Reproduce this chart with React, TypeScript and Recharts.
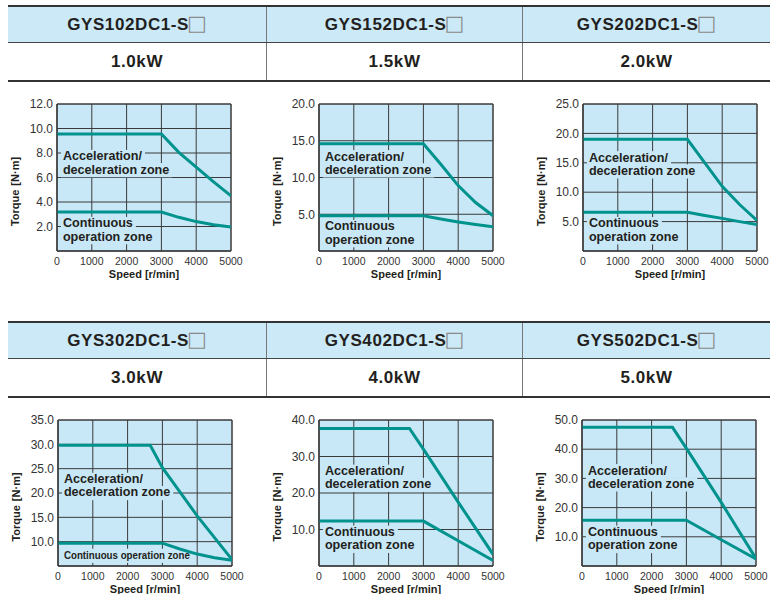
import React from 'react';
import {
  LineChart, Line, XAxis, YAxis, CartesianGrid, ReferenceDot, ReferenceArea,
} from 'recharts';

const speedTicks = [0, 1000, 2000, 3000, 4000, 5000];

const models = ['GYS102DC1-S', 'GYS152DC1-S', 'GYS202DC1-S', 'GYS302DC1-S', 'GYS402DC1-S', 'GYS502DC1-S'];
const ratings = ['1.0kW', '1.5kW', '2.0kW', '3.0kW', '4.0kW', '5.0kW'];

// [speed r/min, torque N·m]
const accel102 = [[0, 9.55], [3000, 9.55], [3500, 8.05], [4000, 6.85], [4500, 5.65], [5000, 4.5]];
const cont102 = [[0, 3.18], [3000, 3.18], [3500, 2.75], [4000, 2.4], [4500, 2.15], [5000, 1.95]];
const accel152 = [[0, 14.6], [3000, 14.6], [3500, 11.8], [4000, 8.9], [4500, 6.6], [5000, 4.8]];
const cont152 = [[0, 4.8], [3000, 4.8], [3500, 4.35], [4000, 3.95], [4500, 3.6], [5000, 3.3]];
const accel202 = [[0, 19.0], [3000, 19.0], [3500, 15.0], [4000, 11.0], [4500, 7.9], [5000, 5.2]];
const cont202 = [[0, 6.6], [3000, 6.6], [3500, 6.05], [4000, 5.55], [4500, 5.0], [5000, 4.5]];
const accel302 = [[0, 29.8], [2650, 29.8], [3000, 25.2], [4000, 15.3], [5000, 6.3]];
const cont302 = [[0, 9.7], [3000, 9.7], [3500, 8.5], [4000, 7.45], [4500, 6.7], [5000, 6.2]];
const accel402 = [[0, 37.7], [2600, 37.7], [3000, 32.0], [4000, 17.5], [5000, 3.2]];
const cont402 = [[0, 12.3], [3000, 12.3], [4000, 6.9], [5000, 1.5]];
const accel502 = [[0, 47.5], [2600, 47.5], [3000, 40.3], [4000, 21.8], [5000, 2.5]];
const cont502 = [[0, 15.7], [3000, 15.7], [4000, 9.0], [5000, 2.4]];

const ticks102 = [2, 4, 6, 8, 10, 12];
const ticks152 = [5, 10, 15, 20];
const ticks202 = [5, 10, 15, 20, 25];
const ticks302 = [10, 15, 20, 25, 30, 35];
const ticks402 = [10, 20, 30, 40];
const ticks502 = [10, 20, 30, 40, 50];

const TEAL = '#00928d';
const PLOT_BG = '#c9e8f7';
const HEAD_BG = '#cce9f7';
const INK = '#231f20';
const GRID = '#3a3a3a';
const FONT = '"Liberation Sans", Arial, Helvetica, sans-serif';

const ACC_TEXT = ['Acceleration/', 'deceleration zone'];
const CONT_TEXT = ['Continuous', 'operation zone'];

const toPts = (a: number[][]) => a.map(([speed, torque]) => ({ speed, torque }));

// layout per panel: plot-area origin, y scale, where the zone captions sit
const charts = [
  { accel: accel102, cont: cont102, ticks: ticks102, domain: [0, 12], left: 57, top: 104, plotH: 147, accAt: 7.4, contAt: 1.93 },
  { accel: accel152, cont: cont152, ticks: ticks152, domain: [0, 20], left: 319, top: 104, plotH: 147, accAt: 12.3, contAt: 2.8 },
  { accel: accel202, cont: cont202, ticks: ticks202, domain: [0, 25], left: 583, top: 104, plotH: 147, accAt: 15.2, contAt: 4.0 },
  { accel: accel302, cont: cont302, ticks: ticks302, domain: [5, 35], left: 58, top: 420, plotH: 146, accAt: 22.0, contAt: 6.4, contOneLine: true },
  { accel: accel402, cont: cont402, ticks: ticks402, domain: [0, 40], left: 319, top: 420, plotH: 146, accAt: 24.9, contAt: 8.2 },
  { accel: accel502, cont: cont502, ticks: ticks502, domain: [0, 50], left: 582, top: 420, plotH: 146, accAt: 31.3, contAt: 10.2 },
];

let ctx: CanvasRenderingContext2D | null = null;
function textWidth(t: string, font: string) {
  if (!ctx) ctx = document.createElement('canvas').getContext('2d');
  if (!ctx) return t.length * 7;
  ctx.font = font;
  return ctx.measureText(t).width;
}

// caption drawn on a patch of plot colour so the grid does not run through it
function ZoneLabel({ x, y, lines, squeeze }: { x?: number; y?: number; lines: string[]; squeeze?: number }) {
  if (x == null || y == null) return null;
  const size = squeeze ? 11.5 : 12.6;
  const lh = 13.2;
  const font = `bold ${size}px "Liberation Sans"`;
  return (
    <g>
      {lines.map((t, i) => (
        <rect key={'r' + i} x={x - 2} y={y + i * lh - 10.5} width={(squeeze ?? textWidth(t, font)) + 5} height={lh + 1} fill={PLOT_BG} />
      ))}
      {lines.map((t, i) => (
        <text key={'t' + i} x={x} y={y + i * lh} fontFamily={FONT} fontWeight="bold" fontSize={size} fill={INK}
          textLength={squeeze} lengthAdjust={squeeze ? 'spacingAndGlyphs' : undefined}>
          {t}
        </text>
      ))}
    </g>
  );
}

function Panel({ c }: { c: typeof charts[number] }) {
  const plotW = 174;
  const w = 50 + plotW + 14;
  const h = 10 + c.plotH + 40;
  return (
    <div style={{ position: 'absolute', left: c.left - 50, top: c.top - 10 }}>
      <LineChart width={w} height={h} margin={{ top: 10, right: 14, bottom: 0, left: 0 }}>
        <CartesianGrid stroke={GRID} strokeWidth={1} fill={PLOT_BG} fillOpacity={1} />
        <XAxis
          type="number" dataKey="speed" domain={[0, 5000]} ticks={speedTicks} interval={0}
          height={40} tickSize={0} tickMargin={7} allowDataOverflow
          axisLine={{ stroke: GRID }}
          tick={{ fontSize: 10.5, fill: '#333', fontFamily: FONT }}
          label={({ viewBox }: any) => (
            <text x={viewBox.x + viewBox.width / 2} y={viewBox.y + 27} textAnchor="middle"
              fontFamily={FONT} fontWeight="bold" fontSize={11} fill={INK}>
              Speed [r/min]
            </text>
          )}
        />
        <YAxis
          type="number" domain={c.domain} ticks={c.ticks} interval={0} width={50}
          tickSize={0} tickMargin={4} allowDataOverflow
          axisLine={{ stroke: GRID }}
          tick={{ fontSize: 12, fill: '#333', fontFamily: FONT }}
          tickFormatter={(v: number) => v.toFixed(1)}
          label={({ viewBox }: any) => {
            const cx = viewBox.x + viewBox.width - 42;
            const cy = viewBox.y + viewBox.height / 2 + 14;
            return (
              <text x={cx} y={cy} dy="0.35em" textAnchor="middle" transform={`rotate(-90 ${cx} ${cy})`}
                fontFamily={FONT} fontWeight="bold" fontSize={11} fill={INK}>
                <tspan>Torque</tspan><tspan dx={4}>[N·m]</tspan>
              </text>
            );
          }}
        />
        <ReferenceDot x={170} y={c.accAt} r={0} zIndex={50}
          shape={(p: any) => <ZoneLabel x={p.cx} y={p.cy} lines={ACC_TEXT} />} />
        <ReferenceDot x={170} y={c.contAt} r={0} zIndex={50}
          shape={(p: any) => c.contOneLine
            ? <ZoneLabel x={p.cx} y={p.cy} lines={['Continuous operation zone']} squeeze={126} />
            : <ZoneLabel x={p.cx} y={p.cy} lines={CONT_TEXT} />} />
        <Line data={toPts(c.accel)} dataKey="torque" type="linear" stroke={TEAL} strokeWidth={3}
          dot={false} activeDot={false} isAnimationActive={false} />
        <Line data={toPts(c.cont)} dataKey="torque" type="linear" stroke={TEAL} strokeWidth={3}
          dot={false} activeDot={false} isAnimationActive={false} />
        <ReferenceArea x1={0} x2={5000} y1={c.domain[0]} y2={c.domain[1]} fill="none" fillOpacity={0}
          stroke={GRID} strokeWidth={1} ifOverflow="visible" />
      </LineChart>
    </div>
  );
}

function SpecTable({ top, names, kws }: { top: number; names: string[]; kws: string[] }) {
  const widths = [258, 256, 248];
  const cell = (i: number) => ({
    width: widths[i], boxSizing: 'border-box' as const,
    borderLeft: i ? '1px solid #777' : 'none',
    display: 'flex', alignItems: 'center', justifyContent: 'center',
  });
  return (
    <div style={{
      position: 'absolute', left: 8, top, width: 762,
      borderTop: '2px solid #333', borderBottom: '2px solid #333',
      color: INK, fontWeight: 'bold', fontFamily: FONT,
    }}>
      <div style={{ display: 'flex', height: 35, background: HEAD_BG, borderBottom: '1px solid #444' }}>
        {names.map((n, i) => (
          <div key={n} style={{ ...cell(i), fontSize: 17, letterSpacing: 0.6 }}>
            {n}
            <span style={{ fontFamily: '"DejaVu Sans"', fontWeight: 'normal', color: '#8a8a8a', fontSize: 21, letterSpacing: 0, lineHeight: 1, marginLeft: -2, position: 'relative', top: -1 }}>□</span>
          </div>
        ))}
      </div>
      <div style={{ display: 'flex', height: 37 }}>
        {kws.map((k, i) => (
          <div key={k} style={{ ...cell(i), fontSize: 17, letterSpacing: 0.6 }}>{k}</div>
        ))}
      </div>
    </div>
  );
}

export default function App() {
  return (
    <div style={{ position: 'absolute', left: 0, top: 0, width: 770, height: 594, background: '#fff', overflow: 'hidden' }}>
      <SpecTable top={5} names={models.slice(0, 3)} kws={ratings.slice(0, 3)} />
      <SpecTable top={321} names={models.slice(3)} kws={ratings.slice(3)} />
      {charts.map((c, i) => <Panel key={i} c={c} />)}
    </div>
  );
}
